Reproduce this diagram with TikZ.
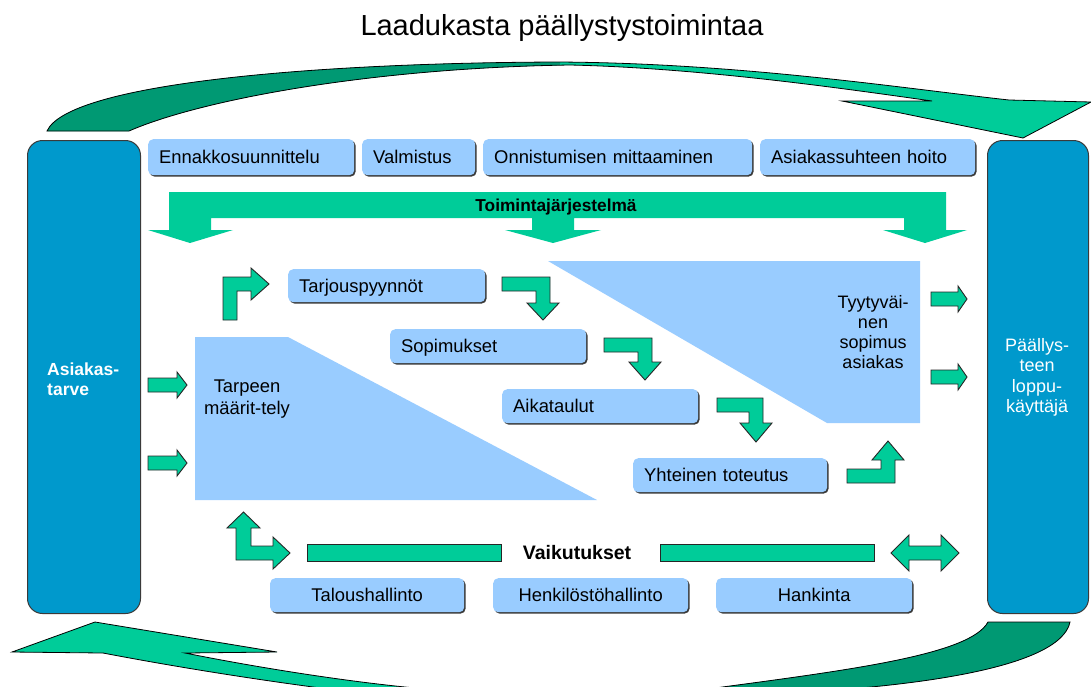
\documentclass[tikz,border=0pt]{standalone}
\usepackage{fontspec}
\setmainfont{Liberation Sans}
\usetikzlibrary{shadows}

\definecolor{boxblue}{HTML}{99CCFF}
\definecolor{colblue}{HTML}{0099CC}
\definecolor{arrowgreen}{HTML}{00CC99}
\definecolor{backgreen}{HTML}{009973}
\definecolor{edgegrey}{HTML}{3A3A3A}

\newcommand\lblfont{\fontsize{18.4}{21}\selectfont}
\newcommand\titlefont{\fontsize{29}{34}\selectfont}

% rounded label box with a dark edge on the lower right
% #1 name, #2 #3 top left, #4 #5 bottom right, #6 alignment, #7 text
\newcommand\labelbox[7]{%
  \pgfmathsetmacro\bw{#4-#2}%
  \pgfmathsetmacro\bh{#5-#3}%
  \pgfmathsetmacro\tw{#4-#2-22}%
  \node[lbox, minimum width=\bw pt, minimum height=\bh pt,
        text width=\tw pt, align=#6] (#1) at (#2,#3) {#7};}

% outline of the upper sweeping arrow
\newcommand\toparcpath{(47,131) .. controls (68,85) and (300,63) .. (557,62)
  .. controls (740,63) and (900,88) .. (1009,100) -- (1091,102) -- (1023,138)
  -- (842,101) -- (932,101) .. controls (840,88) and (700,68) .. (570,65)
  .. controls (370,68) and (200,100) .. (129,131) -- cycle}
% outline of the lower sweeping arrow
\newcommand\botarcpath{(12,652) -- (95,622) -- (277,652) -- (185,653)
  .. controls (280,672) and (380,686) .. (440,690) -- (700,690)
  .. controls (850,670) and (970,655) .. (988,622) -- (1070,622)
  .. controls (1060,670) and (900,690) .. (740,695) -- (376,695)
  .. controls (250,680) and (150,662) .. (103,653) -- cycle}

\begin{document}
\begin{tikzpicture}[x=1pt,y=-1pt, line join=miter,
  lbox/.style={fill=boxblue, rounded corners=5pt, anchor=north west,
    inner xsep=11pt, inner ysep=0pt, text height=13pt, text depth=0pt,
    font=\lblfont,
    drop shadow={shadow xshift=1.4pt, shadow yshift=-1.4pt, fill=edgegrey, opacity=1}},
  column/.style={fill=colblue, draw=edgegrey, line width=1pt,
    rounded corners=15pt, anchor=north west, inner sep=0pt},
  blockarrow/.style={fill=arrowgreen, draw=black!85, line width=0.9pt},
  flatarrow/.style={fill=arrowgreen},
  sweep/.style={draw=black, line width=0.8pt},
  wedge/.style={fill=boxblue},
  lbl/.style={font=\lblfont, inner sep=0pt},
  boldlbl/.style={font=\bfseries\fontsize{17.3}{20}\selectfont, inner sep=0pt},
]
\useasboundingbox (0,0) rectangle (1091,686);
\fill[white] (0,0) rectangle (1091,686);

% title
\node[font=\titlefont, inner sep=0pt, anchor=base] (title) at (562,35)
  {Laadukasta päällystystoimintaa};

% sweeping arrows above and below
\begin{scope}
  \clip (0,0) rectangle (1091,686);
  \fill[arrowgreen] \toparcpath;
  \begin{scope}
    \clip (0,0) rectangle (560,686);
    \fill[backgreen] \toparcpath;
  \end{scope}
  \path[sweep] \toparcpath;
  \fill[arrowgreen] \botarcpath;
  \begin{scope}
    \clip (570,0) rectangle (1091,686);
    \fill[backgreen] \botarcpath;
  \end{scope}
  \path[sweep] \botarcpath;
\end{scope}

% side columns
\node[column, minimum width=113pt, minimum height=473pt] (need) at (27,140) {};
\node[column, minimum width=101pt, minimum height=473pt] (user) at (987,140) {};
\node[font=\bfseries\fontsize{17.5}{20}\selectfont, text=white, inner sep=0pt,
  align=left, anchor=north west] (needtext) at (47,363) {Asiakas-\\tarve};
\node[lbl, text=white, align=center, anchor=north, font=\fontsize{18}{20.5}\selectfont]
  (usertext) at (1037,338) {Päällys-\\teen\\loppu-\\käyttäjä};

% process headings
\labelbox{plan}{148}{139}{354}{175}{left}{Ennakkosuunnittelu}
\labelbox{make}{362}{139}{475}{175}{left}{Valmistus}
\labelbox{measure}{483}{139}{752}{175}{left}{Onnistumisen mittaaminen}
\labelbox{care}{760}{139}{975}{175}{left}{Asiakassuhteen hoito}

% quality system arrow with three heads
\fill[flatarrow] (169,192) -- (946,192) -- (946,230) -- (967,230) -- (925,243)
  -- (883,230) -- (904,230) -- (904,218) -- (574,218) -- (574,230) -- (601,230)
  -- (553,243) -- (505,230) -- (532,230) -- (532,218) -- (211,218) -- (211,230)
  -- (233,230) -- (190,243) -- (148,230) -- (169,230) -- cycle;
\node[boldlbl, anchor=base] (system) at (556,211) {Toimintajärjestelmä};

% wedges
\fill[wedge] (195,337) -- (288,337) -- (597,500) -- (195,500) -- cycle;
\fill[wedge] (548,261) -- (920,261) -- (920,423) -- (827,423) -- cycle;
\node[lbl, align=center, anchor=north, font=\fontsize{18.4}{21.5}\selectfont]
  (define) at (247,380) {Tarpeen\\määrit-tely};
\node[lbl, align=center, anchor=north, font=\fontsize{18}{20}\selectfont]
  (satisfied) at (873,295) {Tyytyväi-\\nen\\sopimus\\asiakas};

% process steps
\labelbox{requests}{288}{269}{485}{302}{left}{Tarjouspyynnöt}
\labelbox{contracts}{390}{329}{586}{363}{left}{Sopimukset}
\labelbox{schedules}{502}{389}{698}{423}{left}{Aikataulut}
\labelbox{joint}{633}{458}{827}{492}{left}{Yhteinen toteutus}

% arrows into and out of the columns
\path[blockarrow] (148,378) -- (177,378) -- (177,372) -- (187,385) -- (177,398) -- (177,392) -- (148,392) -- cycle;
\path[blockarrow] (148,456) -- (177,456) -- (177,450) -- (187,463) -- (177,476) -- (177,470) -- (148,470) -- cycle;
\path[blockarrow] (931,292) -- (958,292) -- (958,286) -- (967,299) -- (958,312) -- (958,306) -- (931,306) -- cycle;
\path[blockarrow] (931,370) -- (958,370) -- (958,364) -- (967,377) -- (958,390) -- (958,384) -- (931,384) -- cycle;

% bent arrows between the steps
\path[blockarrow] (223,320) -- (223,277) -- (251,277) -- (251,268) -- (269,284)
  -- (251,300) -- (251,291) -- (237,291) -- (237,320) -- cycle;
\path[blockarrow] (502,277) -- (550,277) -- (550,303) -- (559,303) -- (543,320)
  -- (527,303) -- (536,303) -- (536,291) -- (502,291) -- cycle;
\path[blockarrow] (604,338) -- (652,338) -- (652,362) -- (661,362) -- (645,380)
  -- (629,362) -- (638,362) -- (638,352) -- (604,352) -- cycle;
\path[blockarrow] (717,398) -- (763,398) -- (763,423) -- (772,423) -- (756,442)
  -- (740,423) -- (749,423) -- (749,412) -- (717,412) -- cycle;
\path[blockarrow] (847,469) -- (881,469) -- (881,460) -- (872,460) -- (888,441)
  -- (904,460) -- (895,460) -- (895,483) -- (847,483) -- cycle;

% effects row
\path[blockarrow] (243.5,512) -- (260,528) -- (251,528) -- (251,546) -- (273,546)
  -- (273,537) -- (290,553) -- (273,569) -- (273,560) -- (236,560) -- (236,528)
  -- (227,528) -- cycle;
\path[blockarrow] (307,544) rectangle (501,561);
\path[blockarrow] (660,544) rectangle (874,561);
\node[font=\bfseries\fontsize{19.5}{22}\selectfont, inner sep=0pt, anchor=base]
  (effects) at (577,559) {Vaikutukset};
\path[blockarrow] (891,553) -- (909,535) -- (909,546) -- (941,546) -- (941,535)
  -- (959,553) -- (941,571) -- (941,560) -- (909,560) -- (909,571) -- cycle;

% support functions
\labelbox{finance}{270}{578}{464}{612}{center}{Taloushallinto}
\labelbox{staff}{493}{578}{688}{612}{center}{Henkilöstöhallinto}
\labelbox{purchase}{716}{578}{912}{612}{center}{Hankinta}
\end{tikzpicture}
\end{document}
